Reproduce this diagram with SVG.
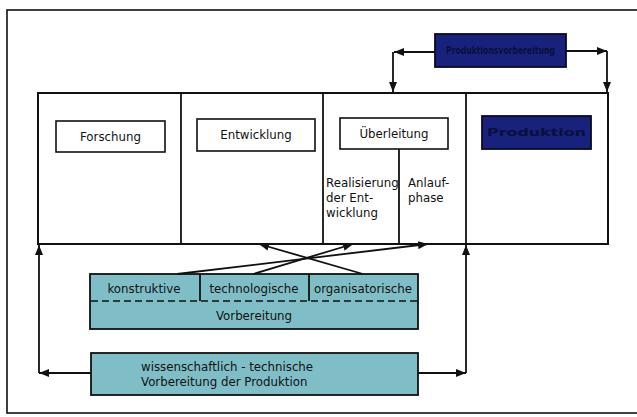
<svg xmlns="http://www.w3.org/2000/svg" width="637" height="417" viewBox="0 0 637 417">
<style>
text{font-family:"DejaVu Sans","Liberation Sans",sans-serif;font-size:11.8px;fill:#111;}
.ln{stroke:#111;stroke-width:1.8;fill:none;}
.box{fill:#fff;stroke:#111;stroke-width:1.6;}
.dark{fill:#18227c;stroke:#0a0a20;stroke-width:1.8;}
.teal{fill:#80bec7;stroke:#111;stroke-width:1.8;}
.dt{fill:#0b0f3a;font-size:10px;font-weight:bold;}
</style>
<defs>
<marker id="ah" viewBox="0 0 10 8" refX="10" refY="4" markerWidth="10" markerHeight="8" markerUnits="userSpaceOnUse" orient="auto">
<path d="M0,0 L10,4 L0,8 Z" fill="#111"/>
</marker>
</defs>
<rect x="7" y="10" width="640" height="403" fill="none" stroke="#111" stroke-width="1.6"/>
<g id="main">
<rect x="38" y="93" width="570" height="151" fill="#fff" stroke="#111" stroke-width="2"/>
<line class="ln" x1="181" y1="93" x2="181" y2="244"/>
<line class="ln" x1="323" y1="93" x2="323" y2="244"/>
<line class="ln" x1="466" y1="93" x2="466" y2="244"/>
<line class="ln" x1="399" y1="149" x2="399" y2="244"/>
</g>
<g id="forschung">
<rect class="box" x="56" y="121" width="109" height="31"/>
<text x="110.5" y="140.5" text-anchor="middle">Forschung</text>
</g>
<g id="entwicklung">
<rect class="box" x="197" y="119" width="118" height="32"/>
<text x="256" y="139" text-anchor="middle">Entwicklung</text>
</g>
<g id="ueberleitung">
<rect class="box" x="340" y="118" width="108" height="31"/>
<text x="394" y="138" text-anchor="middle">Überleitung</text>
</g>
<g id="realisierung">
<text x="326" y="187">Realisierung</text>
<text x="326" y="202">der Ent-</text>
<text x="326" y="217">wicklung</text>
</g>
<g id="anlaufphase">
<text x="408" y="187">Anlauf-</text>
<text x="408" y="202">phase</text>
</g>
<g id="produktion">
<rect class="dark" x="482" y="116" width="109" height="33"/>
<text class="dt" x="487" y="136" textLength="99" lengthAdjust="spacingAndGlyphs">Produktion</text>
</g>
<g id="top">
<rect class="dark" x="435" y="34" width="131" height="33"/>
<text class="dt" x="446" y="54" textLength="109" lengthAdjust="spacingAndGlyphs">Produktionsvorbereitung</text>
</g>
<g id="vorbereitung">
<rect class="teal" x="90" y="274" width="328" height="55"/>
<line x1="91" y1="301" x2="417" y2="301" stroke="#111" stroke-width="1.5" stroke-dasharray="7,4"/>
<line class="ln" x1="200" y1="274" x2="200" y2="301" stroke-width="1.4"/>
<line class="ln" x1="309" y1="274" x2="309" y2="301" stroke-width="1.4"/>
<text x="144" y="293" text-anchor="middle">konstruktive</text>
<text x="254" y="293" text-anchor="middle">technologische</text>
<text x="363" y="293" text-anchor="middle">organisatorische</text>
<text x="254" y="320" text-anchor="middle">Vorbereitung</text>
</g>
<g id="wtv">
<rect class="teal" x="91" y="353" width="327" height="42"/>
<text x="141" y="371">wissenschaftlich - technische</text>
<text x="141" y="386">Vorbereitung der Produktion</text>
</g>
<g id="connectors">
<line class="ln" x1="435" y1="52" x2="394" y2="52" marker-end="url(#ah)"/>
<line class="ln" x1="393" y1="52" x2="393" y2="92" marker-end="url(#ah)"/>
<line class="ln" x1="566" y1="51" x2="607" y2="51" marker-end="url(#ah)"/>
<line class="ln" x1="607" y1="51" x2="607" y2="92" marker-end="url(#ah)"/>
<line class="ln" x1="177" y1="274" x2="428" y2="244" marker-end="url(#ah)"/>
<line class="ln" x1="253" y1="274" x2="353" y2="244" marker-end="url(#ah)"/>
<line class="ln" x1="363" y1="274" x2="259" y2="244" marker-end="url(#ah)"/>
<line class="ln" x1="91" y1="373" x2="39" y2="373" marker-end="url(#ah)"/>
<line class="ln" x1="39" y1="373" x2="39" y2="245" marker-end="url(#ah)"/>
<line class="ln" x1="418" y1="373" x2="466" y2="373" marker-end="url(#ah)"/>
<line class="ln" x1="466" y1="373" x2="466" y2="245" marker-end="url(#ah)"/>
</g>
</svg>
